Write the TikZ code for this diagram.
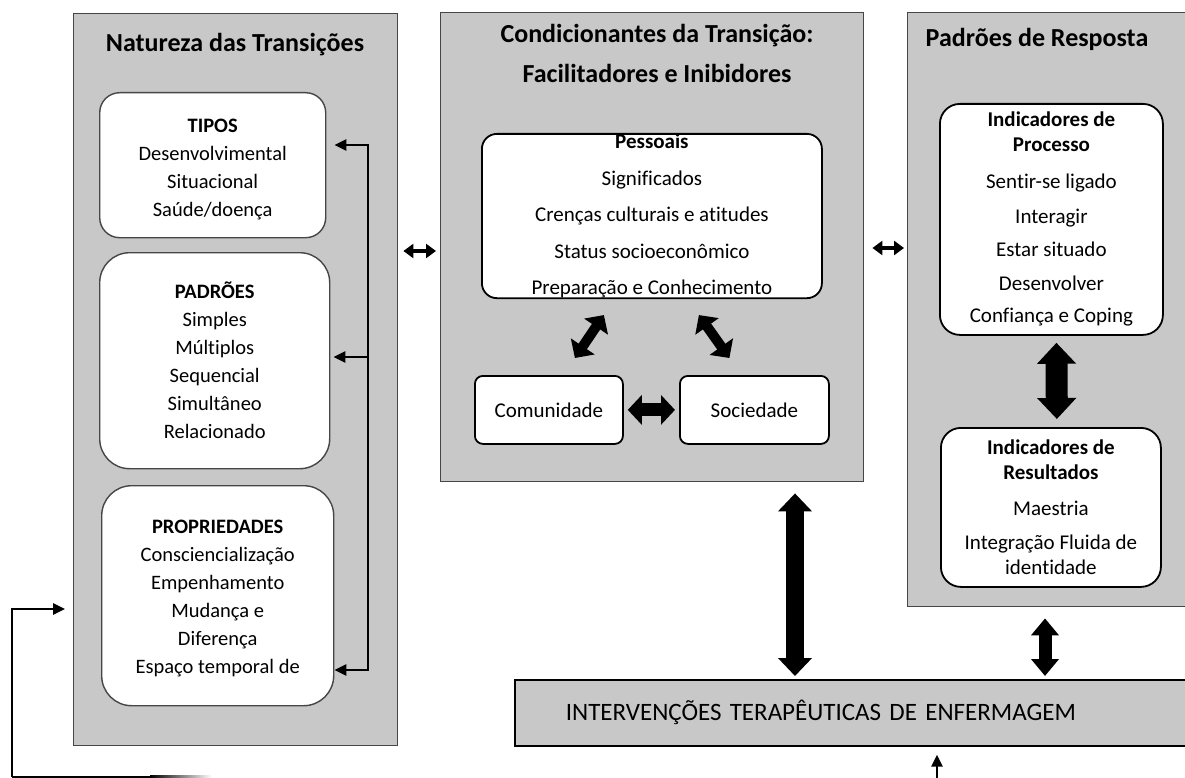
\documentclass[tikz,border=0pt]{standalone}
\usepackage{fontspec}
\setmainfont{Carlito}[Ligatures={NoCommon,NoContextual}]
\usetikzlibrary{arrows.meta}
\definecolor{panelgray}{RGB}{200,200,200}
\definecolor{edgegray}{RGB}{70,70,70}

\begin{document}
\begin{tikzpicture}[x=1pt, y=-1pt,
  panel/.style={draw=edgegray, fill=panelgray, line width=1.4pt, anchor=north west, inner sep=0pt},
  ptitle/.style={font=\fontsize{26}{31}\selectfont\bfseries, anchor=base, inner sep=0pt},
  softbox/.style={draw=edgegray, fill=white, line width=1.4pt, rounded corners=#1, anchor=north west, align=center, inner sep=0pt, font=\fontsize{20.5}{28}\selectfont},
  softbox/.default=20pt,
  hardbox/.style={draw=black, fill=white, line width=1.8pt, rounded corners=#1, anchor=north west, align=center, inner sep=0pt, font=\fontsize{21}{25}\selectfont},
  hardbox/.default=10pt,
  linkarrow/.style={line width=4pt, {Triangle[length=10pt,width=14pt]}-{Triangle[length=10pt,width=14pt]}},
  brarrow/.style={line width=2.6pt, -{Triangle[length=12pt,width=11pt]}},
  fatarrow/.style n args={3}{line width=#1, {Triangle[length=#2,width=#3]}-{Triangle[length=#2,width=#3]}},
]
\useasboundingbox (0,0) rectangle (1185,778);

% Natureza das Transicoes
\node[panel, minimum width=324pt, minimum height=732pt] (natureza) at (73,13) {};
\node[ptitle] (naturezaT) at (235,52) {Natureza das Transições};
\node[softbox=20pt, minimum width=226pt, minimum height=145pt] (tipos) at (99,92)
  {\textbf{TIPOS}\rule{0pt}{23pt}\\Desenvolvimental\\Situacional\\Saúde/doença};
\node[softbox=30pt, minimum width=230pt, minimum height=216pt] (padroes) at (99,252)
  {\textbf{PADRÕES}\\Simples\\Múltiplos\\Sequencial\\Simultâneo\\Relacionado};
\node[softbox=30pt, minimum width=232pt, minimum height=220pt] (propried) at (101,485)
  {\textbf{PROPRIEDADES}\rule{0pt}{19pt}\\Consciencialização\\Empenhamento\\Mudança e\\Diferença\\Espaço temporal de};

% Condicionantes
\node[panel, minimum width=423pt, minimum height=469pt] (condic) at (440,12) {};
\node[ptitle] (condicT) at (657,43) {Condicionantes da Transição:};
\node[ptitle] (condicU) at (657,83) {Facilitadores e Inibidores};
\node[hardbox=15pt, minimum width=340pt, minimum height=164pt, font=\fontsize{21}{36.5}\selectfont] (pessoais) at (481,133)
  {\textbf{Pessoais}\\Significados\\Crenças culturais e atitudes\\Status socioeconômico\\Preparação e Conhecimento};
\node[hardbox=8pt, minimum width=148pt, minimum height=68pt] (comunidade) at (474,375) {Comunidade};
\node[hardbox=8pt, minimum width=149pt, minimum height=68pt] (sociedade) at (679,375) {Sociedade};

% Padroes de Resposta
\node[panel, minimum width=290pt, minimum height=594pt] (resposta) at (907,12) {};
\node[ptitle] (respostaT) at (1037,47) {Padrões de Resposta};
\node[hardbox=20pt, minimum width=223pt, minimum height=231pt] (processo) at (939,103)
  {\textbf{Indicadores de}\\\textbf{Processo}\\[12pt]Sentir-se ligado\\[10pt]Interagir\\[8pt]Estar situado\\[9pt]Desenvolver\\[7pt]Confiança e Coping};
\node[hardbox=20pt, minimum width=220pt, minimum height=159pt] (resultados) at (940,427)
  {\textbf{Indicadores de}\\\textbf{Resultados}\\[11pt]Maestria\\[9pt]Integração Fluida de\\identidade};

% Intervencoes
\node[draw=black, fill=panelgray, line width=1.6pt, anchor=north west, minimum height=66pt,
  text width=625pt, inner xsep=51pt, inner ysep=0pt, align=left, font=\fontsize{25}{30}\selectfont]
  (interv) at (514,679) {INTERVENÇÕES TERAPÊUTICAS DE ENFERMAGEM};

% links between panels
\coordinate (linkA) at (0,251);
\coordinate (linkB) at (0,248);
\draw[linkarrow, shorten <=5pt, shorten >=4pt] (natureza.east |- linkA) -- (condic.west |- linkA);
\draw[linkarrow, shorten <=8pt, shorten >=3pt] (condic.east |- linkB) -- (resposta.west |- linkB);

% bracket on the left
\coordinate (brTop) at (368,145);
\coordinate (brMid) at (368,357);
\coordinate (brBot) at (368,670);
\draw[line width=2.6pt, {Triangle[length=12pt,width=11pt]}-{Triangle[length=12pt,width=11pt]}, shorten <=8pt]
  (tipos.east |- brTop) -- (brTop) -- (brBot) -- (propried.east |- brBot);
\draw[brarrow, shorten >=3pt] (brMid) -- (padroes.east |- brMid);

% fat arrows in the middle
\draw[fatarrow={10pt}{14pt}{28pt}] ([shift={(26,-17)}]comunidade.north) -- ([shift={(-48,16)}]pessoais.south);
\draw[fatarrow={10pt}{14pt}{28pt}] ([shift={(47,16)}]pessoais.south) -- ([shift={(-25,-17)}]sociedade.north);
\draw[fatarrow={13pt}{14pt}{29pt}, shorten <=4pt, shorten >=4pt] (comunidade.east) -- (sociedade.west);
\draw[fatarrow={22pt}{21pt}{38pt}, shorten <=7pt, shorten >=8pt] ([xshift=5pt]processo.south) -- ([xshift=6pt]resultados.north);

% to the interventions
\coordinate (midX) at (795,0);
\coordinate (rightX) at (1045,0);
\draw[fatarrow={18pt}{18pt}{33pt}, shorten <=11pt, shorten >=3pt] (condic.south -| midX) -- (interv.north -| midX);
\draw[fatarrow={13pt}{17pt}{27pt}, shorten <=11pt, shorten >=3pt] (resposta.south -| rightX) -- (interv.north -| rightX);

% feedback loop
\coordinate (feedIn) at (937,778);
\draw[brarrow, shorten >=8pt] (feedIn) -- (interv.south -| feedIn);
\coordinate (loopC) at (12,777);
\coordinate (loopUp) at (12,609);
\coordinate (fadeA) at (150,777);
\draw[brarrow, shorten >=8pt] (loopC) -- (loopUp) -- (natureza.west |- loopUp);
\draw[line width=2.5pt] (loopC) -- (fadeA);
\shade[left color=black, right color=white] (150,775.75) rectangle (212,778.25);

\end{tikzpicture}
\end{document}
